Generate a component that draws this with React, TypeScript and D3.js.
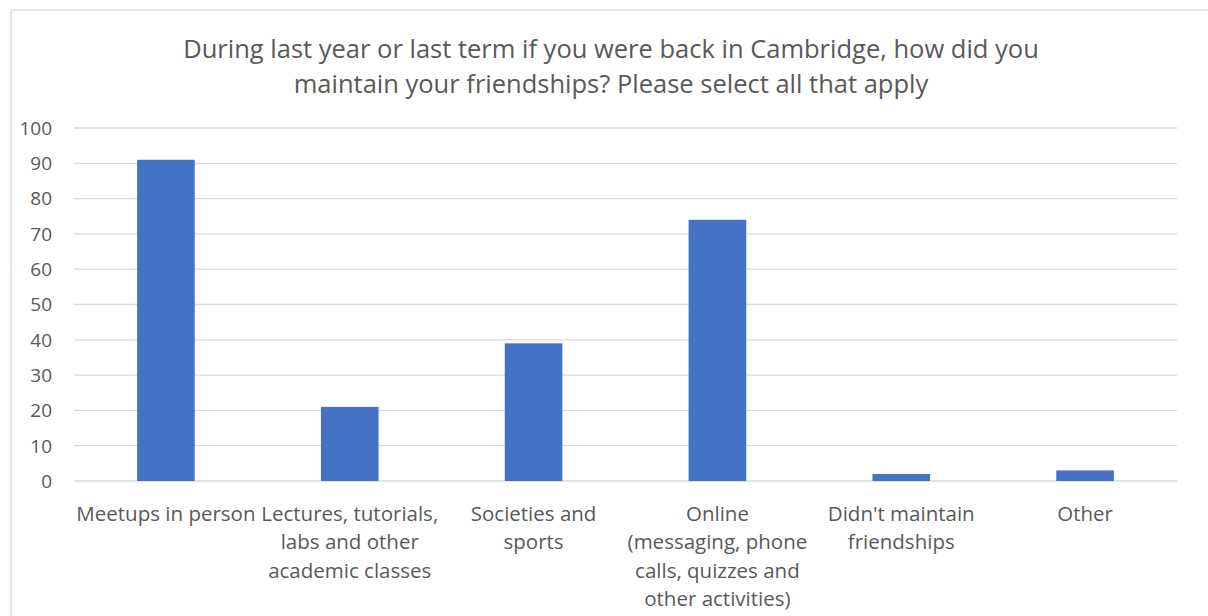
import React from "react";
import * as d3 from "d3";

const categories = [
  "Meetups in person",
  "Lectures, tutorials,\nlabs and other\nacademic classes",
  "Societies and\nsports",
  "Online\n(messaging, phone\ncalls, quizzes and\nother activities)",
  "Didn't maintain\nfriendships",
  "Other",
];
const counts = [91, 21, 39, 74, 2, 3];
const yTicks = [0, 10, 20, 30, 40, 50, 60, 70, 80, 90, 100];
const titleLines = [
  "During last year or last term if you were back in Cambridge, how did you",
  "maintain your friendships? Please select all that apply",
];

const W = 1208;
const H = 616;
const FONT = "'Open Sans', sans-serif";
const TEXT = "#595959";

export default function App() {
  const plotLeft = 74;
  const plotRight = 1177;
  const x = d3.scaleBand<string>().domain(categories).range([plotLeft, plotRight]).padding(0);
  const y = d3.scaleLinear().domain([0, 100]).range([481, 128]);
  const barW = x.bandwidth() / 3.19;

  return (
    <svg
      width={W}
      height={H}
      style={{ position: "absolute", left: 0, top: 0, background: "#fff" }}
      fontFamily={FONT}
    >
      <rect x={11} y={10} width={W + 20} height={H + 20} fill="#fff" stroke="#d9d9d9" strokeWidth={1.3} />
      {titleLines.map((t, i) => (
        <text key={i} x={611} y={58 + i * 35} textAnchor="middle" fontSize={25.5} fill={TEXT}>
          {t}
        </text>
      ))}
      {yTicks.map((v) => (
        <g key={v}>
          <line x1={plotLeft} x2={plotRight} y1={y(v)} y2={y(v)} stroke="#d9d9d9" strokeWidth={1.3} />
          <text x={52} y={y(v) + 6.8} textAnchor="end" fontSize={19} fill={TEXT}>
            {v}
          </text>
        </g>
      ))}
      {categories.map((c, i) => {
        const cx = (x(c) as number) + x.bandwidth() / 2;
        return (
          <g key={c}>
            <rect x={cx - barW / 2} y={y(counts[i])} width={barW} height={y(0) - y(counts[i])} fill="#4472c4" />
            {c.split("\n").map((ln, j) => (
              <text key={j} x={cx} y={521 + j * 28.3} textAnchor="middle" fontSize={20.5} fill={TEXT}>
                {ln}
              </text>
            ))}
          </g>
        );
      })}
    </svg>
  );
}
